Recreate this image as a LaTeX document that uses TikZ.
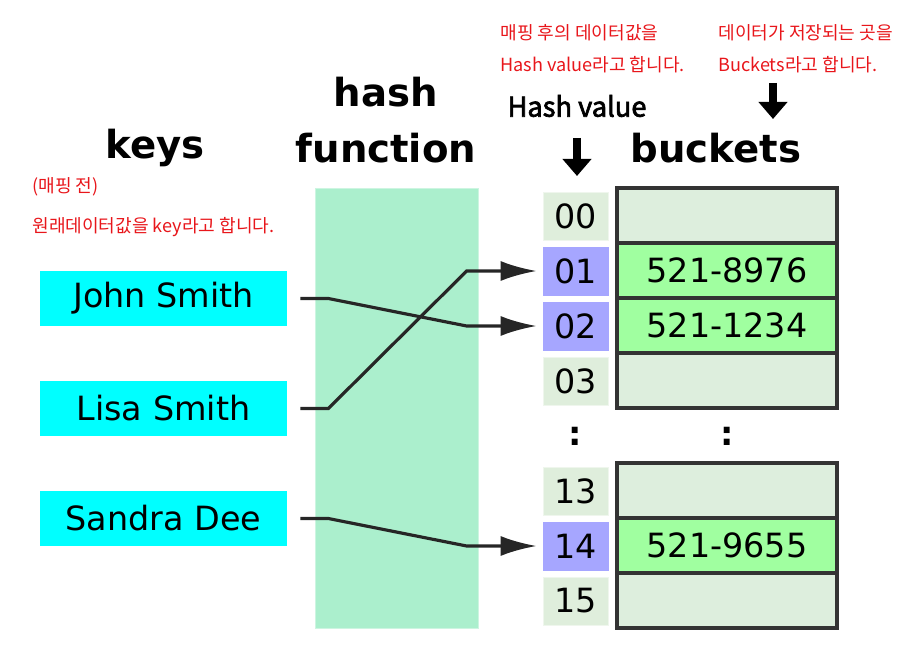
\documentclass[tikz,border=0pt]{standalone}
\usepackage{fontspec}
\setmainfont{DejaVu Sans}
\newfontfamily\krfont{Noto Sans CJK KR}
\newfontfamily\krheavy[FakeBold=2.5]{Noto Sans CJK KR}
\usetikzlibrary{arrows.meta}

\definecolor{keycyan}{HTML}{00FFFF}
\definecolor{hashgreen}{HTML}{ABEFCD}
\definecolor{slotblue}{HTML}{A6A6FF}
\definecolor{slotgray}{HTML}{DFEEDC}
\definecolor{bucketfull}{HTML}{A0FFA0}
\definecolor{bucketempty}{HTML}{DDEEDD}
\definecolor{notered}{HTML}{E8161B}

\tikzset{
  heading/.style={font=\bfseries\fontsize{22}{26}\selectfont},
  keybox/.style={fill=keycyan, minimum width=49.4mm, minimum height=11mm, inner sep=0pt, font=\fontsize{19}{22}\selectfont},
  hashbox/.style={fill=hashgreen, draw=hashgreen!60!white, minimum width=32.6mm, minimum height=88mm},
  slot/.style={fill=slotgray, draw=slotgray!50!white, minimum width=13mm, minimum height=9.6mm, inner sep=0pt, font=\fontsize{19}{22}\selectfont},
  usedslot/.style={slot, fill=slotblue, draw=slotblue},
  bucket/.style={fill=bucketempty, draw=black!80, line width=2pt, minimum width=44mm, minimum height=11mm, inner sep=0pt, font=\fontsize{19}{22}\selectfont},
  fullbucket/.style={bucket, fill=bucketfull},
  note/.style={text=notered, anchor=west, inner sep=0pt, font=\krfont\fontsize{10.3}{12}\selectfont},
  link/.style={draw=black!85, line width=1.8pt, -{Latex[length=7.2mm,width=4mm]}},
  bigarrow/.style={line width=1.6mm, -{Triangle[length=3.4mm,width=5.6mm]}}
}

\begin{document}
\begin{tikzpicture}[x=0.2mm,y=-0.2mm]

  \useasboundingbox (0,0) rectangle (918,665);

  % Headings
  \node[heading] (keyslabel) at (155,148) {keys};
  \node[heading] (hashlabel) at (386,92) {hash};
  \node[heading] (funclabel) at (386,148) {function};
  \node[heading] (bucketlabel) at (716,148) {buckets};
  \node[font=\krheavy\fontsize{15.5}{18}\selectfont] (hvlabel) at (577,106) {Hash value};

  % Notes
  \node[note] (notea) at (500,33) {매핑 후의 데이터값을};
  \node[note] (noteb) at (500,65) {Hash value라고 합니다.};
  \node[note] (notec) at (718,33) {데이터가 저장되는 곳을};
  \node[note] (noted) at (718,65) {Buckets라고 합니다.};
  \node[note] (notee) at (32,187) {(매핑 전)};
  \node[note] (notef) at (32,227) {원래데이터값을 key라고 합니다.};

  % Pointer arrows
  \coordinate (hvtop) at (577,138);
  \coordinate (hvtip) at (577,176);
  \coordinate (bktop) at (773,83);
  \coordinate (bktip) at (773,119);
  \draw[bigarrow] (hvtop) -- (hvtip);
  \draw[bigarrow] (bktop) -- (bktip);

  % Hash function
  \node[hashbox] (hashfn) at (396.5,408) {};

  % Keys
  \node[keybox] (john) at (163.5,298.5) {John Smith};
  \node[keybox] (lisa) at (163.5,408.5) {Lisa Smith};
  \node[keybox] (sandra) at (163.5,518.5) {Sandra Dee};

  % Hash values
  \node[slot] (h00) at (575.5,216) {00};
  \node[usedslot] (h01) at (575.5,271) {01};
  \node[usedslot] (h02) at (575.5,326) {02};
  \node[slot] (h03) at (575.5,381) {03};
  \node[slot] (h13) at (575.5,491) {13};
  \node[usedslot] (h14) at (575.5,546) {14};
  \node[slot] (h15) at (575.5,601) {15};
  \node[font=\bfseries\fontsize{19}{22}\selectfont] (hdots) at (575,436) {:};

  % Buckets
  \node[bucket] (b00) at (727,215.5) {};
  \node[fullbucket] (b01) at (727,270.5) {521-8976};
  \node[fullbucket] (b02) at (727,325.5) {521-1234};
  \node[bucket] (b03) at (727,380.5) {};
  \node[bucket] (b13) at (727,490.5) {};
  \node[fullbucket] (b14) at (727,545.5) {521-9655};
  \node[bucket] (b15) at (727,600.5) {};
  \node[font=\bfseries\fontsize{19}{22}\selectfont] (bdots) at (727,436) {:};

  % Mapping
  \draw[link] ([xshift=2.6mm]john.east) -- ++(28,0) -- ([xshift=-15.2mm]h02.west) -- ([xshift=-1.2mm]h02.west);
  \draw[link] ([xshift=2.6mm]lisa.east) -- ++(28,0) -- ([xshift=-15.2mm]h01.west) -- ([xshift=-1.2mm]h01.west);
  \draw[link] ([xshift=2.6mm]sandra.east) -- ++(28,0) -- ([xshift=-15.2mm]h14.west) -- ([xshift=-1.2mm]h14.west);

\end{tikzpicture}
\end{document}
